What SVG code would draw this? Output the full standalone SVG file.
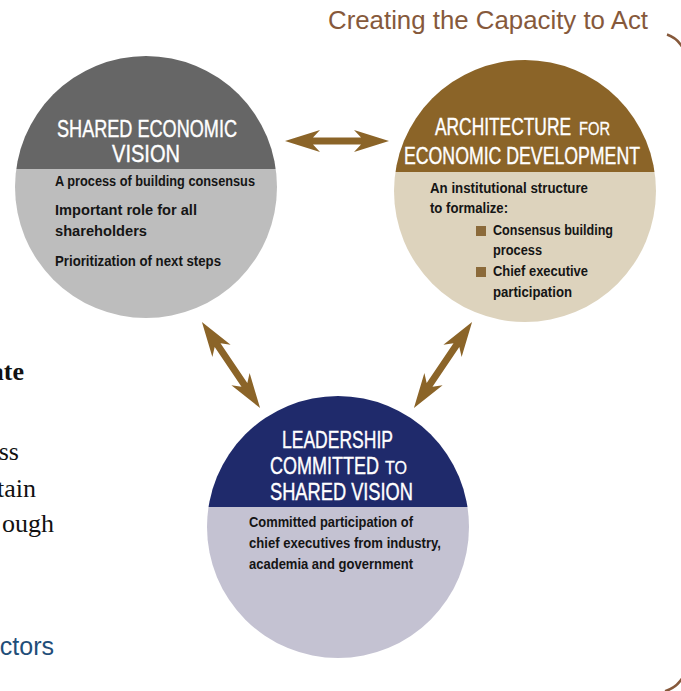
<svg xmlns="http://www.w3.org/2000/svg" xmlns:xlink="http://www.w3.org/1999/xlink" width="681" height="691" viewBox="0 0 681 691">
<style>
.hd{font-family:"Liberation Sans",Arial,sans-serif;fill:#ffffff;font-size:24px;stroke:#ffffff;stroke-width:0.4px}
.sm{font-size:19px;stroke-width:0.3px}
.bd{font-family:"Liberation Sans",Arial,sans-serif;fill:#151515;font-size:14.5px;font-weight:bold}
.frag{font-family:"Liberation Serif","Times New Roman",serif;fill:#111;font-size:26px}
.arrow{fill:#8b6428}
</style>
<defs>
<clipPath id="c1"><circle cx="146" cy="187" r="131"/></clipPath>
<clipPath id="c2"><circle cx="525" cy="191" r="131"/></clipPath>
<clipPath id="c3"><circle cx="338" cy="527" r="131"/></clipPath>
<polygon id="dbl" points="-52,0 -17,-11 -24,-3.5 24,-3.5 17,-11 52,0 17,11 24,3.5 -24,3.5 -17,11"/>
</defs>

<path d="M 667 34.5 A 28 28 0 0 1 686 61 L 686 664 A 28 28 0 0 1 665 691.1" fill="none" stroke="#86593b" stroke-width="2.5"/>
<text x="328" y="29" textLength="320" lengthAdjust="spacingAndGlyphs" style="font-family:'Liberation Sans',Arial,sans-serif;font-size:26px;fill:#86593b">Creating the Capacity to Act</text>

<g id="fragments">
<text class="frag" x="24" y="380" text-anchor="end" font-weight="bold">ate</text>
<text class="frag" x="19" y="460" text-anchor="end">ss</text>
<text class="frag" x="36" y="497" text-anchor="end">tain</text>
<text class="frag" x="54" y="532" text-anchor="end">ough</text>
<text x="54" y="655" text-anchor="end" style="font-family:'Liberation Sans',Arial,sans-serif;font-size:25px;fill:#1f4e79">ctors</text>
</g>

<g id="connectors">
<use xlink:href="#dbl" class="arrow" transform="translate(337,141)"/>
<use xlink:href="#dbl" class="arrow" transform="translate(231,365) rotate(56)"/>
<use xlink:href="#dbl" class="arrow" transform="translate(443,365) rotate(-56)"/>
</g>

<g id="shared-vision">
<g clip-path="url(#c1)">
<rect x="0" y="50" width="300" height="119" fill="#666666"/>
<rect x="0" y="169" width="300" height="160" fill="#bdbdbd"/>
</g>
<text class="hd" x="57" y="137" textLength="180" lengthAdjust="spacingAndGlyphs">SHARED ECONOMIC</text>
<text class="hd" x="112" y="162" textLength="68" lengthAdjust="spacingAndGlyphs">VISION</text>
<text class="bd" x="55" y="186" textLength="200" lengthAdjust="spacingAndGlyphs">A process of building consensus</text>
<text class="bd" x="55" y="215" textLength="142" lengthAdjust="spacingAndGlyphs">Important role for all</text>
<text class="bd" x="55" y="236" textLength="92" lengthAdjust="spacingAndGlyphs">shareholders</text>
<text class="bd" x="55" y="266" textLength="166" lengthAdjust="spacingAndGlyphs">Prioritization of next steps</text>
</g>

<g id="architecture">
<g clip-path="url(#c2)">
<rect x="380" y="50" width="300" height="122" fill="#8b6428"/>
<rect x="380" y="172" width="300" height="160" fill="#ddd3bd"/>
</g>
<text class="hd" x="435" y="135"><tspan textLength="136" lengthAdjust="spacingAndGlyphs">ARCHITECTURE</tspan><tspan class="sm" x="579" textLength="31" lengthAdjust="spacingAndGlyphs">FOR</tspan></text>
<text class="hd" x="404" y="164" textLength="236" lengthAdjust="spacingAndGlyphs">ECONOMIC DEVELOPMENT</text>
<text class="bd" x="430" y="193" textLength="158" lengthAdjust="spacingAndGlyphs">An institutional structure</text>
<text class="bd" x="430" y="213" textLength="78" lengthAdjust="spacingAndGlyphs">to formalize:</text>
<rect x="476" y="226" width="10" height="10" fill="#8b6a3a"/>
<text class="bd" x="493" y="235" textLength="120" lengthAdjust="spacingAndGlyphs">Consensus building</text>
<text class="bd" x="493" y="255" textLength="49" lengthAdjust="spacingAndGlyphs">process</text>
<rect x="476" y="267" width="10" height="10" fill="#8b6a3a"/>
<text class="bd" x="493" y="276" textLength="95" lengthAdjust="spacingAndGlyphs">Chief executive</text>
<text class="bd" x="493" y="297" textLength="79" lengthAdjust="spacingAndGlyphs">participation</text>
</g>

<g id="leadership">
<g clip-path="url(#c3)">
<rect x="200" y="390" width="280" height="117" fill="#1f2a6b"/>
<rect x="200" y="507" width="280" height="160" fill="#c4c2d2"/>
</g>
<text class="hd" x="282" y="448" textLength="111" lengthAdjust="spacingAndGlyphs">LEADERSHIP</text>
<text class="hd" x="270" y="474"><tspan textLength="109" lengthAdjust="spacingAndGlyphs">COMMITTED</tspan><tspan class="sm" x="385" textLength="22" lengthAdjust="spacingAndGlyphs">TO</tspan></text>
<text class="hd" x="270" y="500" textLength="143" lengthAdjust="spacingAndGlyphs">SHARED VISION</text>
<text class="bd" x="249" y="527" textLength="164" lengthAdjust="spacingAndGlyphs">Committed participation of</text>
<text class="bd" x="249" y="548" textLength="192" lengthAdjust="spacingAndGlyphs">chief executives from industry,</text>
<text class="bd" x="249" y="569" textLength="164" lengthAdjust="spacingAndGlyphs">academia and government</text>
</g>
</svg>
